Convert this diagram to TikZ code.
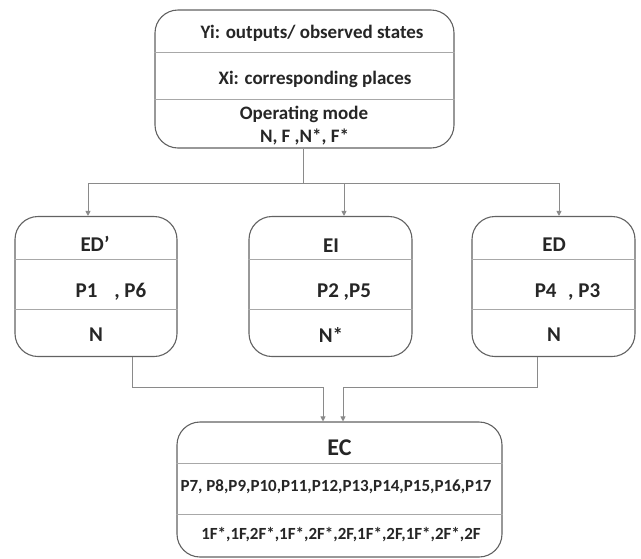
\documentclass[tikz,border=0pt]{standalone}
\usepackage{fontspec}
\setmainfont{Carlito}
\usetikzlibrary{arrows.meta}
\definecolor{boxgray}{HTML}{626262}
\definecolor{divgray}{HTML}{A8A8A8}
\definecolor{conngray}{HTML}{8A8A8A}
\definecolor{txtc}{HTML}{262626}
\begin{document}
\begin{tikzpicture}[x=1pt,y=-1pt,
  box/.style={draw=boxgray, line width=1.1pt, rounded corners=23pt, inner sep=0pt, fill=white},
  div/.style={draw=divgray, line width=0.9pt},
  conn/.style={draw=conngray, line width=0.9pt, -{Triangle[length=5pt,width=5pt]}},
  plain/.style={draw=conngray, line width=0.9pt},
  big/.style={font=\bfseries\fontsize{21}{23}\selectfont, text=txtc, inner sep=0pt},
  mid/.style={font=\bfseries\fontsize{19}{21}\selectfont, text=txtc, inner sep=0pt},
  small/.style={font=\bfseries\fontsize{17}{19}\selectfont, text=txtc, inner sep=0pt}]
\useasboundingbox (0,0) rectangle (641,558);
% boxes
\node[box, minimum width=299pt, minimum height=138pt] (T) at (304.5,79) {};
\node[box, minimum width=162pt, minimum height=140pt] (L) at (96,286.5) {};
\node[box, minimum width=163pt, minimum height=140pt] (M) at (330.5,286.5) {};
\node[box, minimum width=163pt, minimum height=140pt] (R) at (553.5,286.5) {};
\node[box, minimum width=325pt, minimum height=135pt] (EC) at (339.5,489.5) {};
% dividers
\draw[div] (T.west |- 0,52) -- (T.east |- 0,52);
\draw[div] (T.west |- 0,99) -- (T.east |- 0,99);
\foreach \b in {L, M, R}{
  \draw[div] (\b.west |- 0,259) -- (\b.east |- 0,259);
  \draw[div] (\b.west |- 0,309) -- (\b.east |- 0,309);
}
\draw[div] (EC.west |- 0,463) -- (EC.east |- 0,463);
\draw[div] (EC.west |- 0,514) -- (EC.east |- 0,514);
% texts
\node[mid] (t1) at (312,33) {Yi: outputs/ observed states};
\node[mid] (t2) at (315,79) {Xi: corresponding places};
\node[mid] (t3) at (304,114) {Operating mode};
\node[mid] (t4) at (304.5,137) {N, F ,N*, F*};
\node[big] (l1) at (95,244) {ED’};
\node[big] (l2) at (111,292) {P1\hspace{0.8em}, P6};
\node[big] (l3) at (96,335) {N};
\node[big] (m1) at (331,246) {EI};
\node[big] (m2) at (344,292) {P2 ,P5};
\node[big] (m3) at (331,335) {N*};
\node[big] (r1) at (554,245) {ED};
\node[big] (r2) at (567.5,292) {P4\hspace{0.55em}, P3};
\node[big] (r3) at (554,335) {N};
\node[font=\bfseries\fontsize{24}{26}\selectfont, text=txtc, inner sep=0pt] (e1) at (339.5,448) {EC};
\node[small] (e2) at (336,487) {P7, P8,P9,P10,P11,P12,P13,P14,P15,P16,P17};
\node[small] (e3) at (341,535) {1F*,1F,2F*,1F*,2F*,2F,1F*,2F,1F*,2F*,2F};
% connectors
\coordinate (j) at (303,183);
\draw[plain] ([xshift=-1.5pt]T.south) -- (j);
\draw[conn] (j) -| ([xshift=-8pt]L.north);
\draw[conn] (j) -| ([xshift=13.5pt]M.north);
\draw[conn] (j) -| ([xshift=5.5pt]R.north);
\coordinate (k1) at (323,387);
\coordinate (k2) at (343,387);
\draw[conn] ([xshift=36pt]L.south) |- (k1) -- ([xshift=-16.5pt]EC.north);
\draw[conn] ([xshift=-16.5pt]R.south) |- (k2) -- ([xshift=3.5pt]EC.north);
\end{tikzpicture}
\end{document}
